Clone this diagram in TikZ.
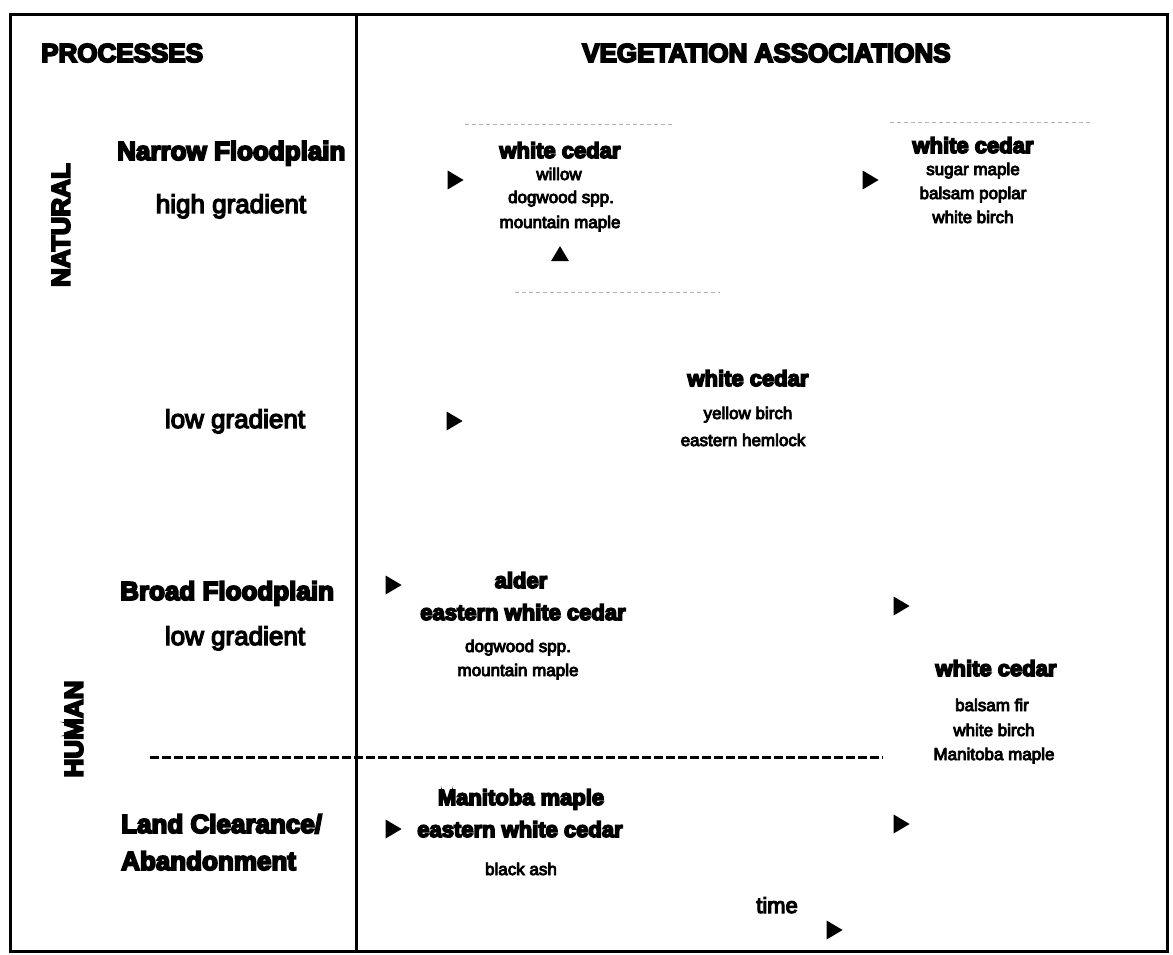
\documentclass[tikz,border=0pt]{standalone}
\usepackage{fontspec}
\setmainfont{Liberation Sans}[BoldFeatures={FakeBold=7}]
\newfontfamily\lightfont{Liberation Sans}[FakeBold=5]
\usetikzlibrary{shapes.geometric}
\begin{document}
\begin{tikzpicture}[x=1pt,y=-1pt,
  frame/.style={line width=3pt},
  head/.style={font=\fontsize{26}{30}\selectfont\bfseries, inner sep=0pt},
  proc/.style={font=\fontsize{26}{30}\selectfont\bfseries, inner sep=0pt, anchor=base west},
  grad/.style={font=\lightfont\fontsize{26}{30}\selectfont, inner sep=0pt, anchor=base},
  major/.style={font=\fontsize{22}{26}\selectfont\bfseries, inner sep=0pt, anchor=base},
  minor/.style={font=\lightfont\fontsize{17}{20}\selectfont, inner sep=0pt, anchor=base},
  tri/.style={isosceles triangle, isosceles triangle stretches, fill=black, draw=none,
              inner sep=0pt, minimum width=19pt, minimum height=16pt},
  faint/.style={black!30, line width=0.8pt, dash pattern=on 4pt off 3pt}]
\useasboundingbox (0,0) rectangle (1173,954);
\fill[white] (0,0) rectangle (1173,954);

% outer frame and column divider
\draw[frame] (10,14) rectangle (1167,951);
\draw[frame] (356,14) -- (356,951);

% headers
\node[head, anchor=base west] (hproc) at (41,62) {PROCESSES};
\node[head, anchor=base west] (hveg) at (582,62) {VEGETATION ASSOCIATIONS};
\node[head, rotate=90] (natural) at (61,225) {NATURAL};
\node[head, rotate=90] (human) at (74,729) {HUMAN};

% process labels
\node[proc] (narrow) at (117,160) {Narrow Floodplain};
\node[grad] (highgr) at (231,213) {high gradient};
\node[grad] (lowgr1) at (235,428) {low gradient};
\node[proc] (broad) at (120,600) {Broad Floodplain};
\node[grad] (lowgr2) at (235,645) {low gradient};
\node[proc] (land) at (121,833) {Land Clearance/};
\node[proc] (aband) at (121,870) {Abandonment};

% divider between the natural and the human processes
\coordinate (dl) at (150,757);
\coordinate (dr) at (883,757);
\draw[line width=3pt, dash pattern=on 9pt off 3pt] (dl) -- (dr);

% faint guides around the upper associations
\draw[faint] (465,124) -- (675,124);
\draw[faint] (890,122) -- (1090,122);
\draw[faint] (515,292) -- (720,292);

% narrow floodplain, high gradient
\node[major] (a1) at (560,158) {white cedar};
\node[minor] (a1b) at (559,180) {willow};
\node[minor] (a1c) at (561,203) {dogwood spp.};
\node[minor] (a1d) at (560,228) {mountain maple};
\node[major] (a2) at (973,153) {white cedar};
\node[minor] (a2b) at (973,175) {sugar maple};
\node[minor] (a2c) at (973,199) {balsam poplar};
\node[minor] (a2d) at (973,223) {white birch};
\node[tri] (t1) at (453,180) {};
\node[tri] (t2) at (868,180) {};
\node[tri, rotate=90, minimum width=18pt, minimum height=15pt] (t3) at (560,256) {};

% narrow floodplain, low gradient
\node[major] (a3) at (748,386) {white cedar};
\node[minor] (a3b) at (748,419) {yellow birch};
\node[minor] (a3c) at (743,446) {eastern hemlock};
\node[tri] (t4) at (452,421) {};

% broad floodplain
\node[major] (a4) at (521,588) {alder};
\node[major] (a4b) at (523,620) {eastern white cedar};
\node[minor] (a4c) at (518,652) {dogwood spp.};
\node[minor] (a4d) at (518,676) {mountain maple};
\node[tri] (t5) at (391,585) {};
\node[tri] (t6) at (899,606) {};

% shared later association
\node[major] (a5) at (996,676) {white cedar};
\node[minor] (a5b) at (992,711) {balsam fir};
\node[minor] (a5c) at (994,736) {white birch};
\node[minor] (a5d) at (994,760) {Manitoba maple};

% land clearance / abandonment
\node[major] (a6) at (521,805) {Manitoba maple};
\node[major] (a6b) at (520,837) {eastern white cedar};
\node[minor] (a6c) at (521,875) {black ash};
\node[tri] (t7) at (391,829) {};
\node[tri] (t8) at (899,824) {};

% time axis
\node[font=\lightfont\fontsize{22}{26}\selectfont, inner sep=0pt, anchor=base east] (time) at (798,913) {time};
\node[tri] (t9) at (832,930) {};
\end{tikzpicture}
\end{document}
